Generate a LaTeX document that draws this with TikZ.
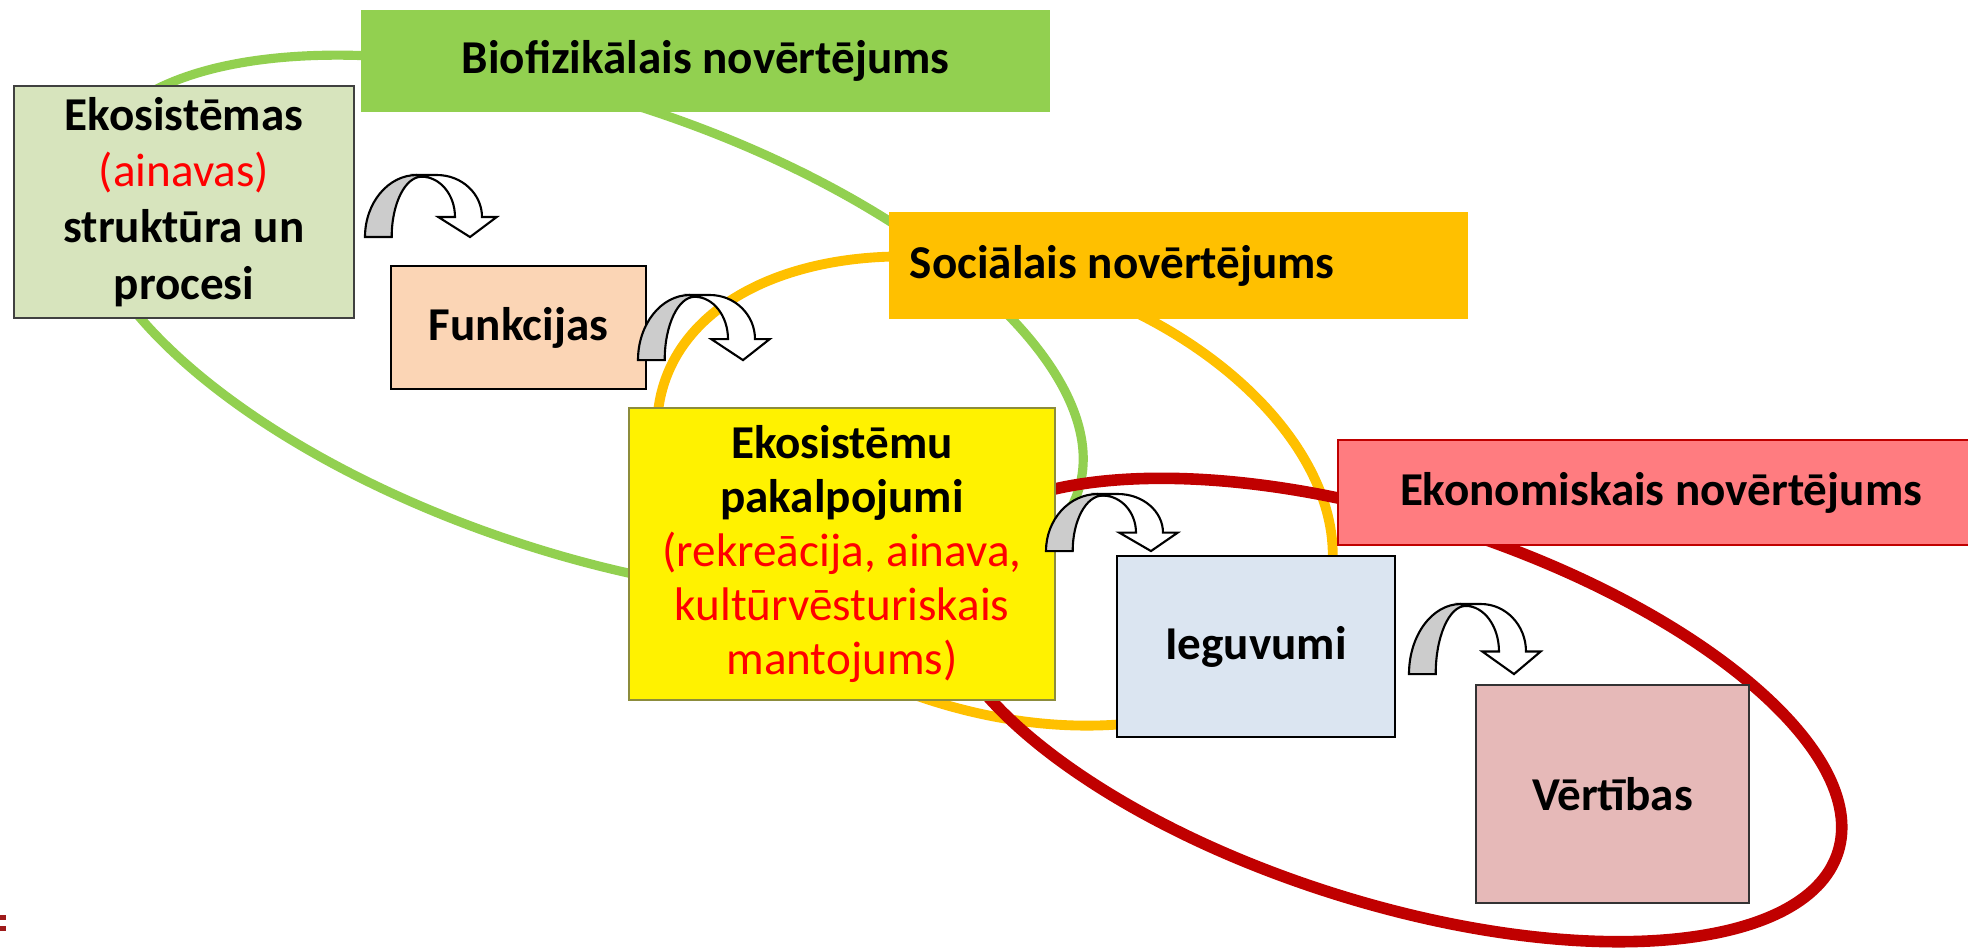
\documentclass[tikz,border=0pt]{standalone}
\usepackage{fontspec}
\setmainfont{Carlito}
\usepackage{tikz}

\definecolor{biogreen}{HTML}{92D050}
\definecolor{socorange}{HTML}{FFC000}
\definecolor{ekonred}{HTML}{C00000}
\definecolor{ekonfill}{HTML}{FF7C80}
\definecolor{ekofill}{HTML}{D7E4BD}
\definecolor{funkfill}{HTML}{FBD5B5}
\definecolor{ieguvfill}{HTML}{DBE5F1}
\definecolor{vertfill}{HTML}{E6B9B8}
\definecolor{servborder}{HTML}{8C8C3C}
\definecolor{arrowgray}{HTML}{CCCCCC}
\definecolor{logored}{HTML}{9E1B1B}

\tikzset{
  pics/bendarrow/.style={code={
    \begin{scope}[yscale=#1]
      \filldraw[fill=arrowgray, draw=black, line width=0.6pt] (0,62) .. controls (0,27.8) and (23.2,0) .. (51.7,0) -- (56.7,1.7) .. controls (40.1,1.7) and (26.7,28.7) .. (26.7,62) -- cycle;
      \filldraw[fill=white, draw=black, line width=0.6pt] (51.7,0) -- (72,0) .. controls (96.8,0) and (117,18.8) .. (117,42) -- (131.7,42) -- (105,62) -- (73.3,42) -- (90,42) .. controls (90,19.8) and (75.1,1.7) .. (56.7,1.7) -- cycle;
    \end{scope}}},
  pics/bendarrow/.default=1
}

\begin{document}
\begin{tikzpicture}[x=0.01cm, y=-0.01cm,
    every node/.style={font=\fontsize{13.4}{16}\selectfont\bfseries, align=center, inner sep=0pt},
    box/.style={rectangle, draw=black, line width=0.6pt}]
\useasboundingbox (0,0) rectangle (1968,947);

% ovals
\draw[biogreen, line width=2.6pt, rotate around={-18.5:(583,326)}] (583,326) ellipse (522 and 226);
\draw[socorange, line width=2.8pt, rotate around={-18.1:(995,491)}] (995,491) ellipse (348 and 219);
\draw[ekonred, line width=3.3pt, rotate around={-17.6:(1390,710)}] (1390,710) ellipse (470 and 192);

% boxes
\node[fill=biogreen, minimum width=6.89cm, minimum height=1.02cm] (biofiz) at (705.5,61) {Biofizikālais novērtējums};
\node[fill=socorange, text width=5.37cm, align=flush left, inner xsep=0.21cm, minimum height=1.07cm] (social) at (1178.5,265.5) {Sociālais novērtējums};
\node[fill=ekonfill, draw=ekonred, line width=0.5pt, minimum width=6.46cm, minimum height=1.05cm] (ekon) at (1661,492.5) {Ekonomiskais novērtējums};
\node[box, fill=ekofill, draw=black!75, minimum width=3.40cm, minimum height=2.32cm] (eko) at (184,202)
  {Ekosistēmas\\ \textcolor{red}{\mdseries (ainavas)}\\ struktūra un\\ procesi};
\node[box, fill=funkfill, minimum width=2.55cm, minimum height=1.23cm] (funk) at (518.5,327.5) {Funkcijas};
\node[box, fill=yellow, draw=servborder, minimum width=4.26cm, minimum height=2.92cm,
      font=\fontsize{13.4}{15.4}\selectfont\bfseries] (serv) at (842,554)
  {Ekosistēmu\\ pakalpojumi\\ \textcolor{red}{\mdseries (rekreācija, ainava,}\\ \textcolor{red}{\mdseries kultūrvēsturiskais}\\ \textcolor{red}{\mdseries mantojums)}};
\node[box, fill=ieguvfill, minimum width=2.78cm, minimum height=1.81cm] (ieguv) at (1256,646.5) {Ieguvumi};
\node[box, fill=vertfill, draw=black!80, minimum width=2.73cm, minimum height=2.18cm] (vert) at (1612.5,794) {Vērtības};

% bent arrows
\pic at (365,175) {bendarrow};
\pic at (638,295) {bendarrow=1.05};
\pic at (1046,494) {bendarrow=0.92};
\pic at (1409,604) {bendarrow=1.13};

\fill[logored] (0,915) rectangle (6,920);
\fill[logored] (0,926) rectangle (6,931);
\end{tikzpicture}
\end{document}
